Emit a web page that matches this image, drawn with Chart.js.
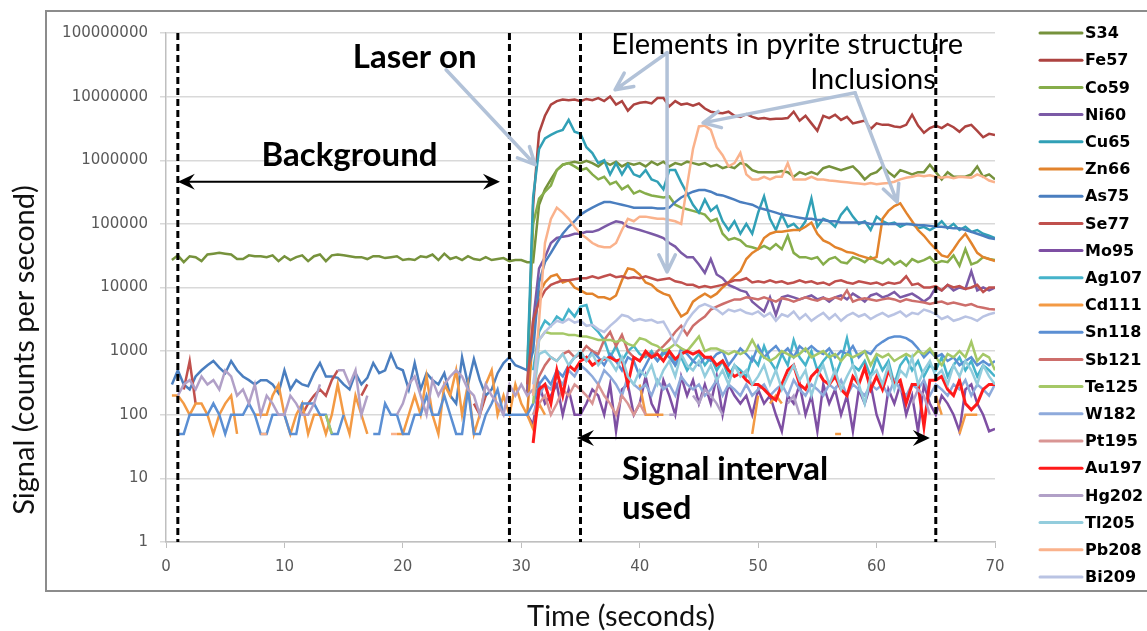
<!DOCTYPE html>
<html>
<head>
<meta charset="utf-8">
<title>Laser ablation signal</title>
<script src="https://cdn.jsdelivr.net/npm/chart.js@4.4.1/dist/chart.umd.min.js"></script>
<style>
  html, body { margin: 0; padding: 0; background: #fff; }
  #wrap { width: 1147px; height: 631px; }
</style>
</head>
<body>
<div id="wrap"><canvas id="chart" width="1147" height="631"></canvas></div>
<script>
const _ = null; // zero counts -> gap on the log axis

// ================= TIME =================
const tBg = [0.5,1,1.5,2,2.5,3,3.5,4,4.5,5,5.5,6,6.5,7,7.5,8,8.5,9,9.5,10,
  10.5,11,11.5,12,12.5,13,13.5,14,14.5,15,15.5,16,16.5,17,17.5,18,18.5,19,19.5,20,
  20.5,21,21.5,22,22.5,23,23.5,24,24.5,25,25.5,26,26.5,27,27.5,28,28.5,29,29.5];
const tSig = [30,30.5,31,31.5,32,32.5,33,33.5,34,34.5,35,35.5,36,36.5,37,37.5,38,38.5,39,39.5,
  40,40.5,41,41.5,42,42.5,43,43.5,44,44.5,45,45.5,46,46.5,47,47.5,48,48.5,49,49.5,
  50,50.5,51,51.5,52,52.5,53,53.5,54,54.5,55,55.5,56,56.5,57,57.5,58,58.5,59,59.5,
  60,60.5,61,61.5,62,62.5,63,63.5,64,64.5,65,65.5,66,66.5,67,67.5,68,68.5,69,69.5,70];

const xTicks = [0, 10, 20, 30, 40, 50, 60, 70];
const yTicks = [1, 10, 100, 1000, 10000, 100000, 1000000, 10000000, 100000000];
const markerTimes = [1, 29, 35, 65];

// ================= BACKGROUND (gas blank) =================
const S34_bg = [27000,32000,25000,31000,30000,26000,33000,34000,35000,34000,
  33000,28000,28000,32000,31000,31000,30000,32000,26000,31000,
  27000,30000,32000,26000,31000,33000,26000,32000,33000,32000,
  31000,30000,30000,28000,31000,31000,29000,30000,31000,27000,
  28000,27000,31000,30000,33000,27000,34000,28000,30000,27000,
  31000,28000,27000,30000,27000,28000,29000,26000,27000];
const As75_bg = [300,500,300,250,400,500,600,700,550,450,
  700,500,400,350,300,350,350,300,220,500,
  250,350,300,280,450,650,400,400,380,300,
  250,450,300,380,650,450,500,900,550,500,
  250,650,250,450,350,300,450,200,150,800,
  300,750,350,200,250,450,650,800,600];
const Se77_bg = [_,_,250,700,150,_,_,_,_,_,
  _,_,_,_,_,_,_,_,_,_,
  _,_,100,150,200,250,200,350,500,_,
  _,_,200,300,_,_,_,_,_,_,
  _,_,_,_,_,_,_,_,_,_,
  _,150,100,200,_,_,_,_,_];
const Cd111_bg = [200,200,150,100,150,150,100,50,100,150,
  200,50,_,_,100,100,100,200,300,100,
  50,100,150,50,100,100,50,100,300,100,
  50,200,100,50,_,100,_,_,50,50,
  100,200,100,400,100,50,300,200,500,100,
  300,50,100,300,500,100,200,100,300];
const Sn118_bg = [_,50,50,100,100,100,100,150,100,50,
  100,100,100,150,100,50,50,100,100,100,
  50,50,150,150,150,100,100,50,50,100,
  _,_,_,_,50,50,150,100,100,50,
  50,100,100,200,100,100,200,100,50,50,
  250,50,50,100,150,250,100,100,100];
const Hg202_bg = [_,200,300,350,250,400,300,350,250,500,
  400,200,250,150,300,100,200,150,100,100,
  200,150,100,100,150,300,_,_,500,500,
  300,500,100,200,_,_,_,_,100,150,
  300,400,200,100,350,200,300,400,500,400,
  250,200,100,300,200,150,100,300,200];
const Pb208_bg = [_,_,_,_,_,_,_,_,_,_,
  _,_,_,_,_,50,50,_,_,_,
  _,_,_,_,_,_,_,_,_,_,
  _,_,_,_,_,_,_,50,50,_,
  _,_,_,_,_,_,_,_,_,_,
  _,_,_,_,_,_,_,_,_];
const Te125_bg = [_,_,_,_,_,_,_,_,_,_,
  _,_,_,_,_,_,_,_,_,_,
  _,_,_,_,_,_,100,50,_,_,
  _,_,_,_,_,_,_,_,_,_,
  _,_,_,_,_,_,_,_,_,_,
  _,_,_,_,_,_,_,_,_];

// ================= SIGNAL (30 - 70 s) =================
const S34 = [27000,25000,25000,2e5,3.5e5,5e5,7e5,8.5e5,9e5,9.5e5,
  9e5,9.8e5,9e5,8e5,9.5e5,8.5e5,9.5e5,8e5,9e5,8.5e5,
  9e5,8e5,9.5e5,8.5e5,9.5e5,8e5,9e5,8.5e5,9.5e5,9e5,
  8.5e5,9e5,8e5,8.5e5,7.5e5,8e5,7.5e5,9e5,8.5e5,7e5,
  6.5e5,6.5e5,6.5e5,6.5e5,6.8e5,6.5e5,5.5e5,6.5e5,6e5,6.5e5,
  6e5,7.5e5,8e5,7.5e5,7e5,7.5e5,8e5,6.5e5,5e5,6e5,
  6.5e5,8e5,6.5e5,5.5e5,7e5,6.5e5,6e5,6.5e5,6.5e5,8.5e5,
  6.5e5,5e5,6.5e5,5.5e5,5.5e5,5.5e5,6e5,8e5,5.5e5,6e5,
  5e5];
const Fe57 = [_,200,2e5,2.7e6,5e6,7.5e6,8.5e6,9e6,8.8e6,9e6,
  8.5e6,9.2e6,8.8e6,9.5e6,8.5e6,1e7,7.5e6,8.5e6,6e6,7.5e6,
  8e6,8.2e6,7.8e6,9.5e6,9.5e6,7e6,8.5e6,7.5e6,7.8e6,7.2e6,
  7.8e6,6.5e6,5.8e6,5.6e6,5.5e6,5.8e6,5e6,4.8e6,5.3e6,4.8e6,
  4.5e6,4.6e6,4.4e6,4.5e6,4.5e6,4.6e6,5.8e6,4.2e6,5e6,3.8e6,
  2.9e6,5e6,4.6e6,5.2e6,4.3e6,4.8e6,3.8e6,4e6,4.2e6,3.1e6,
  3.8e6,3.6e6,3.6e6,3.4e6,3.3e6,3.6e6,5.2e6,3.5e6,2.7e6,3.2e6,
  3.5e6,3.2e6,3.7e6,3.3e6,2.8e6,3.4e6,3.6e6,2.9e6,2.3e6,2.6e6,
  2.5e6];
const Co59 = [_,500,1e5,2.5e5,3.2e5,4e5,7e5,8.5e5,9e5,8e5,
  7e5,7.5e5,6e5,5e5,5.5e5,4.2e5,4.6e5,3.5e5,4e5,3e5,
  3.3e5,3e5,2.8e5,2.7e5,2.6e5,2.7e5,2e5,1.8e5,1.7e5,1.6e5,
  1.5e5,1.4e5,1.1e5,1.2e5,7e4,5.6e4,6e4,5.5e4,4.5e4,4.3e4,
  4e4,4.5e4,4e4,4.8e4,4e4,6.5e4,3.5e4,3e4,3e4,2.8e4,
  3e4,2.3e4,2.8e4,3e4,2.5e4,2.4e4,3e4,2.8e4,2.5e4,3e4,
  2.6e4,2.4e4,2.8e4,2.3e4,2.6e4,2.2e4,2.8e4,2.5e4,2.7e4,3e4,
  2.4e4,2.6e4,2.5e4,3.2e4,2.2e4,4e4,2.3e4,2.5e4,3e4,2.8e4,
  2.7e4];
const Ni60 = [_,200,3000,2e4,3e4,5e4,6e4,6.3e4,6.5e4,7e4,
  7e4,7.5e4,7.5e4,8e4,9e4,1e5,1.1e5,1.05e5,9e4,8.5e4,
  8e4,7.5e4,7e4,6.5e4,6e4,5e4,4.4e4,3.5e4,3e4,3e4,
  2.3e4,1.7e4,2.8e4,1.6e4,1.4e4,1.1e4,1e4,9e3,8.5e3,6e3,
  5e3,4.2e3,7e3,3.7e3,7e3,7.5e3,7e3,6.5e3,7e3,7.5e3,
  6.5e3,7e3,6e3,7e3,7.5e3,6.5e3,8e3,7e3,6e3,7.5e3,
  8e3,7e3,7.5e3,8.5e3,7e3,7.5e3,8e3,7e3,6e3,7e3,
  1e4,9e3,1.1e4,9e3,1e4,9.5e3,1.8e4,9e3,1e4,9e3,
  1e4];
const Cu65 = [_,500,2.6e5,1.5e6,2.2e6,2.5e6,2.8e6,3e6,4.3e6,2.8e6,
  2.6e6,1.6e6,1.3e6,9e5,1e6,6e5,9e5,6e5,8.5e5,6e5,
  5.5e5,7e5,5e5,4.6e5,3.5e5,7e5,7e5,4.5e5,3e5,2e5,
  1.5e5,2.4e5,1.6e5,1.9e5,1.1e5,8e4,1.1e5,7e4,1e5,7e4,
  1.5e5,2.7e5,1.2e5,8e4,1.4e5,9e4,1e5,8e4,1.1e5,2.5e5,
  9e4,1.2e5,1.1e5,9e4,1.4e5,1.8e5,1.3e5,1e5,1.1e5,8e4,
  1.3e5,1.1e5,1e5,1.05e5,9e4,1e5,1e5,8.5e4,9e4,8e4,
  9e4,1.1e5,8.5e4,1e5,8e4,9e4,7.5e4,8e4,7e4,6.5e4,
  6e4];
const Zn66 = [_,100,2000,8000,1.2e4,1.5e4,1.6e4,1.2e4,1.3e4,1e4,
  9e3,8e3,8e3,7e3,7e3,6.5e3,7.5e3,1.3e4,2e4,1.9e4,
  1.6e4,1.2e4,1.1e4,9e3,8e3,7.5e3,5e3,3.5e3,4e3,6e3,
  7e3,8e3,7e3,8e3,1e4,1.2e4,1.5e4,1.8e4,2.8e4,3.5e4,
  4e4,6e4,7e4,7.5e4,7.5e4,7.8e4,8e4,8e4,9e4,1.05e5,
  7e4,5.5e4,5e4,4.3e4,4e4,3.6e4,3.5e4,3.2e4,3e4,2.8e4,
  3e4,1.2e5,1.6e5,1.9e5,2.1e5,1.5e5,1.1e5,8e4,6.5e4,5e4,
  4e4,3.2e4,3e4,4e4,5.5e4,7e4,5e4,3.5e4,3e4,2.8e4,
  2.6e4];
const As75 = [550,500,1000,1.2e4,2.5e4,3.5e4,5e4,7e4,9e4,1.1e5,
  1.4e5,1.6e5,1.8e5,2e5,2.2e5,2.2e5,2.1e5,2e5,1.9e5,1.8e5,
  1.8e5,1.8e5,1.8e5,1.75e5,1.75e5,1.8e5,2.2e5,2.6e5,2.9e5,3.2e5,
  3.4e5,3.4e5,3.2e5,2.9e5,2.8e5,2.6e5,2.4e5,2.2e5,2.1e5,2e5,
  1.8e5,1.7e5,1.6e5,1.5e5,1.4e5,1.35e5,1.3e5,1.25e5,1.2e5,1.2e5,
  1.15e5,1.15e5,1.1e5,1.1e5,1.05e5,1.05e5,1.05e5,1.05e5,1.05e5,1e5,
  1e5,1e5,1e5,1e5,1e5,1e5,9.8e4,9.5e4,9.5e4,9.3e4,
  9e4,9e4,8.8e4,8.5e4,8.5e4,8e4,7.5e4,7e4,6.5e4,6e4,
  5.8e4];
const Se77 = [_,300,3000,6000,9000,1.1e4,1.2e4,1.3e4,1.3e4,1.35e4,
  1.4e4,1.4e4,1.5e4,1.4e4,1.5e4,1.6e4,1.45e4,1.5e4,1.4e4,1.45e4,
  1.4e4,1.5e4,1.4e4,1.3e4,1.35e4,1.4e4,1.25e4,1.2e4,1.1e4,1.1e4,
  1e4,1.05e4,1e4,1.05e4,1.1e4,1.2e4,1.3e4,1.3e4,1.4e4,1.2e4,
  1.25e4,1.2e4,1.3e4,1.2e4,1.25e4,1.15e4,1.2e4,1.3e4,1.2e4,1.25e4,
  1.15e4,1.2e4,1.1e4,1.25e4,1.3e4,1.2e4,1.15e4,1.25e4,1.2e4,1.15e4,
  1.2e4,1.1e4,1.2e4,1.15e4,1.2e4,1.5e4,1.1e4,1.15e4,1e4,1e4,
  1.05e4,9e3,1.1e4,1e4,1.05e4,9.5e3,1e4,1.1e4,8.5e3,1e4,
  1e4];
const Mo95 = [_,100,70,300,150,200,300,100,250,100,
  100,150,250,200,100,300,55,250,300,100,
  150,400,150,100,350,200,100,400,200,350,
  150,300,150,400,100,300,200,150,200,100,
  250,150,200,100,55,200,150,300,100,200,
  55,300,150,250,100,200,55,250,150,300,
  100,55,250,150,300,100,200,55,300,150,
  100,200,150,100,55,250,300,150,100,55,
  60];
const Ag107 = [_,_,500,2000,3000,2500,3500,3000,4500,3500,
  5000,5300,2500,2000,1500,800,1200,700,1000,1200,
  900,800,1000,700,900,1000,600,800,500,700,
  900,600,800,500,700,400,600,500,400,800,
  600,1200,700,500,900,600,1500,800,600,1000,
  500,700,900,400,700,1600,600,500,700,400,
  800,500,700,300,600,800,500,700,400,600,
  500,800,400,600,800,500,700,400,600,500,
  400];
const Cd111 = [150,100,60,150,100,_,_,_,_,_,
  _,_,_,_,_,_,_,_,_,_,
  300,100,100,100,100,_,_,_,_,_,
  _,_,_,_,_,_,_,_,_,50,
  200,_,150,200,150,_,_,_,_,_,
  _,_,_,50,50,_,_,_,_,_,
  _,_,_,_,_,_,_,_,_,_,
  200,100,_,_,50,100,100,100,_,_,
  _];
const Sn118 = [100,100,150,300,400,300,500,400,600,800,
  900,700,1000,800,600,900,700,500,800,700,
  400,600,900,700,1000,800,600,1100,900,700,
  600,800,700,900,1000,600,800,1100,900,700,
  1200,800,1000,1200,900,1100,800,1200,1000,1200,
  1000,900,1100,800,1000,900,1200,800,1000,900,
  1200,1400,1600,1700,1700,1600,1400,1100,800,1000,
  800,900,700,800,600,700,800,600,700,600,
  700];
const Sb121 = [_,_,200,400,600,800,700,900,1000,800,
  900,1200,1000,900,1500,2000,1200,1800,1000,800,
  700,900,800,1000,1200,1500,2000,2500,1800,2500,
  3000,3500,4500,5000,5500,6000,6500,6500,7000,6800,
  6500,7000,6500,6000,6800,6500,6000,6500,7000,6500,
  6200,6800,6500,7000,6500,9000,6000,6500,6800,6500,
  6200,6500,6800,6500,6000,6500,6200,6000,5800,5500,
  5800,6000,5500,5800,5500,5200,5500,5000,4800,4600,
  4500];
const Te125 = [_,_,150,1500,2000,1900,1900,1900,1800,1800,
  1700,1700,1600,1500,1500,1500,1400,1500,1300,1200,
  1600,1500,1300,1200,1000,1100,1300,1100,1000,1300,
  1700,1000,1100,1100,1000,900,1000,900,1000,1500,
  1000,800,700,800,1000,900,800,900,1100,800,
  900,1000,800,900,700,900,800,900,1000,600,
  900,800,900,700,800,900,800,1000,900,1100,
  800,600,900,800,1000,800,1400,700,900,800,
  500];
const W182 = [_,_,100,200,300,250,400,300,500,400,
  600,500,400,300,500,400,300,200,400,300,
  250,300,200,350,250,300,200,400,300,250,
  300,200,250,350,200,300,250,200,300,200,
  250,300,200,250,300,200,350,250,200,300,
  250,200,300,250,350,200,300,250,200,300,
  250,300,200,350,250,200,300,250,350,200,
  300,250,200,300,250,350,200,300,250,200,
  300];
const Pt195 = [_,_,100,150,200,100,150,250,200,300,
  250,200,150,300,200,150,100,200,150,100,
  150,100,_,_,_,_,_,_,_,_,
  _,_,_,_,_,_,_,_,_,_,
  _,_,_,_,_,_,_,_,_,_,
  _,_,_,_,_,_,_,_,_,_,
  _,_,_,_,_,_,_,_,_,_,
  _,_,_,_,_,_,_,_,_,_,
  _];
const Au197 = [_,_,36,250,300,150,500,200,600,500,
  700,800,600,700,750,800,700,750,300,800,
  700,1000,800,900,700,1000,750,900,1000,900,
  1000,800,800,600,700,500,400,450,350,300,
  300,250,200,170,300,500,600,300,250,400,
  500,350,300,400,250,200,400,300,550,250,
  400,250,500,300,350,150,300,300,65,350,
  350,400,250,200,350,150,120,150,250,300,
  300];
const Hg202 = [300,200,250,_,_,_,_,_,_,_,
  _,_,_,_,_,_,_,_,_,_,
  _,_,_,_,_,100,100,_,_,200,
  150,250,200,150,100,_,_,_,_,_,
  _,_,_,_,_,150,200,100,_,_,
  _,_,_,_,_,_,_,_,_,_,
  _,_,_,_,_,_,150,250,200,100,
  _,_,_,_,_,_,_,_,_,_,
  _];
const Tl205 = [_,_,200,900,1000,800,700,900,600,800,
  1000,700,900,600,800,700,500,800,400,300,
  500,400,600,300,500,700,400,900,600,500,
  700,400,600,350,500,300,600,400,500,300,
  400,600,300,500,250,400,600,350,500,200,
  400,600,300,500,250,400,600,300,150,400,
  500,300,600,250,500,400,800,300,500,700,
  400,500,300,600,400,700,500,300,600,400,
  300];
const Pb208 = [_,_,200,3000,5e4,1.2e5,1.8e5,1.5e5,1.2e5,9e4,
  7e4,6e4,5e4,4.5e4,4.3e4,4.3e4,5e4,8e4,1.2e5,1.1e5,
  1.3e5,1.3e5,1.25e5,1.2e5,1.2e5,1.15e5,1.1e5,1e5,4e5,1.5e6,
  3.4e6,3.5e6,3e6,1.6e6,1.2e6,8e5,9e5,1.3e6,6e5,5e5,
  5e5,5.5e5,5e5,5.5e5,5.5e5,9e5,5e5,5e5,5e5,5.5e5,
  5e5,5e5,4.8e5,4.7e5,4.6e5,4.5e5,4.4e5,4.3e5,4.2e5,4.4e5,
  4.2e5,4.3e5,4.4e5,4.6e5,5e5,5.3e5,5.5e5,5.8e5,5.6e5,5.8e5,
  5.5e5,5.3e5,5.5e5,5.2e5,5.5e5,5.4e5,5.3e5,6e5,5.5e5,4.8e5,
  4.5e5];
const Bi209 = [_,_,300,1500,2000,2500,3000,2800,3200,2800,
  3000,2500,2600,2200,2000,2500,3000,3700,3500,3000,
  3200,3000,3100,2800,2900,2000,1300,2000,3000,4000,
  5000,5500,5000,4500,3800,4500,4200,4500,4000,3800,
  4200,3500,4000,3000,3800,3500,4200,3200,3800,3000,
  3500,4000,3200,3800,3000,3600,4000,3500,3800,3200,
  3600,4000,3500,3800,4200,3500,4000,3800,4500,4200,
  3800,3200,3500,3000,3200,3500,3300,3000,3500,3800,
  4000];

// ================= SERIES =================
const series = [
  { name: "S34",   color: "#76923c", bg: S34_bg,   sig: S34 },
  { name: "Fe57",  color: "#ad4340", sig: Fe57 },
  { name: "Co59",  color: "#86ad4a", sig: Co59 },
  { name: "Ni60",  color: "#7b5aa6", sig: Ni60 },
  { name: "Cu65",  color: "#31a0b6", sig: Cu65 },
  { name: "Zn66",  color: "#e2832c", sig: Zn66 },
  { name: "As75",  color: "#4a7ebf", bg: As75_bg,  sig: As75 },
  { name: "Se77",  color: "#c0504d", bg: Se77_bg,  sig: Se77 },
  { name: "Mo95",  color: "#7e4fa3", sig: Mo95 },
  { name: "Ag107", color: "#45b3ca", sig: Ag107 },
  { name: "Cd111", color: "#f39a44", bg: Cd111_bg, sig: Cd111 },
  { name: "Sn118", color: "#5b8fd3", bg: Sn118_bg, sig: Sn118 },
  { name: "Sb121", color: "#cd6e6b", sig: Sb121 },
  { name: "Te125", color: "#a5c867", bg: Te125_bg, sig: Te125 },
  { name: "W182",  color: "#8eaadb", sig: W182 },
  { name: "Pt195", color: "#d99594", sig: Pt195 },
  { name: "Au197", color: "#ff1a1a", sig: Au197 },
  { name: "Hg202", color: "#b1a0c7", bg: Hg202_bg, sig: Hg202 },
  { name: "Tl205", color: "#93cddd", sig: Tl205 },
  { name: "Pb208", color: "#fab28c", bg: Pb208_bg, sig: Pb208 },
  { name: "Bi209", color: "#b9c3e3", sig: Bi209 }
];

function toPoints(s) {
  const pts = [];
  if (s.bg) s.bg.forEach((v, i) => pts.push({ x: tBg[i], y: v }));
  s.sig.forEach((v, i) => pts.push({ x: tSig[i], y: v }));
  return pts;
}

const datasets = series.map((s, i) => ({
  label: s.name,
  data: toPoints(s),
  borderColor: s.color,
  backgroundColor: s.color,
  borderWidth: s.name === "Au197" ? 3 : 2.5,
  pointRadius: 0,
  spanGaps: false,
  order: -i   // later series on top, like the spreadsheet
}));

// ================= ANNOTATIONS =================
const pointers = [
  { from: [23.65, 2.64e7], to: [31.17, 8.5e5] },
  { from: [42.31, 4.9e7],  to: [37.92, 1.28e7] },
  { from: [42.31, 4.9e7],  to: [42.31, 1.76e4] },
  { from: [58.19, 1.15e7], to: [45.35, 3.87e6] },
  { from: [58.19, 1.15e7], to: [61.74, 2.2e5] }
];

function arrowHead(ctx, x, y, dir) {
  ctx.beginPath();
  ctx.moveTo(x, y);
  ctx.lineTo(x + dir * 17, y - 8);
  ctx.lineTo(x + dir * 11, y);
  ctx.lineTo(x + dir * 17, y + 8);
  ctx.closePath();
  ctx.fill();
}

function doubleArrow(ctx, x1, x2, y) {
  ctx.strokeStyle = "#000";
  ctx.fillStyle = "#000";
  ctx.lineWidth = 2;
  ctx.beginPath();
  ctx.moveTo(x1 + 6, y);
  ctx.lineTo(x2 - 6, y);
  ctx.stroke();
  arrowHead(ctx, x1, y, 1);
  arrowHead(ctx, x2, y, -1);
}

function pointer(ctx, x1, y1, x2, y2) {
  const a = Math.atan2(y2 - y1, x2 - x1);
  ctx.strokeStyle = "#b2c2d8";
  ctx.lineWidth = 3.5;
  ctx.lineCap = "round";
  ctx.lineJoin = "round";
  ctx.beginPath();
  ctx.moveTo(x1, y1);
  ctx.lineTo(x2, y2);
  ctx.moveTo(x2 - 19 * Math.cos(a - 0.45), y2 - 19 * Math.sin(a - 0.45));
  ctx.lineTo(x2, y2);
  ctx.lineTo(x2 - 19 * Math.cos(a + 0.45), y2 - 19 * Math.sin(a + 0.45));
  ctx.stroke();
}

const guidePlugin = {
  id: "guides",
  beforeDraw(chart) {
    const { ctx, width, height } = chart;
    ctx.save();
    ctx.fillStyle = "#fff";
    ctx.fillRect(0, 0, width, height);
    ctx.strokeStyle = "#8c8c8c";
    ctx.lineWidth = 2;
    ctx.strokeRect(46, 11, width, 580);
    ctx.restore();
  },
  afterDatasetsDraw(chart) {
    const { ctx, chartArea: area, scales } = chart;
    const px = t => scales.x.getPixelForValue(t);
    const py = v => scales.y.getPixelForValue(v);
    ctx.save();

    // dashed time markers
    ctx.strokeStyle = "#000";
    ctx.lineWidth = 3;
    ctx.setLineDash([7, 4]);
    markerTimes.forEach(t => {
      ctx.beginPath();
      ctx.moveTo(px(t), area.top);
      ctx.lineTo(px(t), area.bottom);
      ctx.stroke();
    });
    ctx.setLineDash([]);

    // light blue pointers
    pointers.forEach(p => pointer(ctx, px(p.from[0]), py(p.from[1]), px(p.to[0]), py(p.to[1])));

    // interval arrows
    doubleArrow(ctx, px(1), px(28.2), py(4.6e5));
    doubleArrow(ctx, px(34.7), px(64.5), py(43));

    // labels
    ctx.fillStyle = "#000";
    ctx.textBaseline = "middle";
    ctx.textAlign = "center";
    ctx.font = "bold 33px Lato";
    ctx.fillText("Laser on", px(21), py(4.2e7));
    ctx.fillText("Background", px(15.5), py(1.2e6));
    ctx.font = "29px Lato";
    ctx.fillText("Elements in pyrite structure", px(52.45), py(6.5e7));
    ctx.fillText("Inclusions", px(59.7), py(1.84e7));
    ctx.textAlign = "left";
    ctx.font = "bold 33px Lato";
    ctx.fillText("Signal interval", px(38.5), py(14));
    ctx.fillText("used", px(38.5), py(3.4));

    // axis titles
    ctx.fillStyle = "#111";
    ctx.textAlign = "center";
    ctx.font = "29px Lato";
    ctx.fillText("Time (seconds)", 621, 617);
    ctx.save();
    ctx.translate(25, 350);
    ctx.rotate(-Math.PI / 2);
    ctx.fillText("Signal (counts per second)", 0, 0);
    ctx.restore();

    // legend
    ctx.textAlign = "left";
    ctx.font = "bold 16px 'DejaVu Sans'";
    chart.data.datasets.forEach((ds, i) => {
      const y = 33 + 27.2 * i;
      ctx.strokeStyle = ds.borderColor;
      ctx.lineWidth = 3;
      ctx.beginPath();
      ctx.moveTo(1040, y);
      ctx.lineTo(1082, y);
      ctx.stroke();
      ctx.fillStyle = "#000";
      ctx.fillText(ds.label, 1085, y + 1);
    });
    ctx.restore();
  }
};

// ================= CHART =================
new Chart(document.getElementById("chart"), {
  type: "line",
  data: { datasets },
  options: {
    responsive: false,
    animation: false,
    devicePixelRatio: 1,
    layout: { padding: { top: 33, right: 152, bottom: 0, left: 0 } },
    plugins: { legend: { display: false }, tooltip: { enabled: false } },
    scales: {
      x: {
        type: "linear",
        min: 0,
        max: 70,
        afterBuildTicks: s => { s.ticks = xTicks.map(v => ({ value: v })); },
        afterFit: s => { s.height = 89; },
        grid: { drawOnChartArea: false, drawTicks: true, tickLength: 6, color: "#bfbfbf" },
        border: { color: "#bfbfbf", width: 1.5 },
        ticks: { padding: 10, color: "#595959", font: { family: "DejaVu Sans", size: 15 } }
      },
      y: {
        type: "logarithmic",
        min: 1,
        max: 100000000,
        afterBuildTicks: s => { s.ticks = yTicks.map(v => ({ value: v })); },
        afterFit: s => { s.width = 166; },
        grid: { color: "#d9d9d9", lineWidth: 1.5, tickLength: 6 },
        border: { color: "#bfbfbf", width: 1.5 },
        ticks: {
          padding: 12,
          color: "#595959",
          autoSkip: false,
          font: { family: "DejaVu Sans", size: 15 },
          callback: v => String(v)
        }
      }
    }
  },
  plugins: [guidePlugin]
});
</script>
</body>
</html>
